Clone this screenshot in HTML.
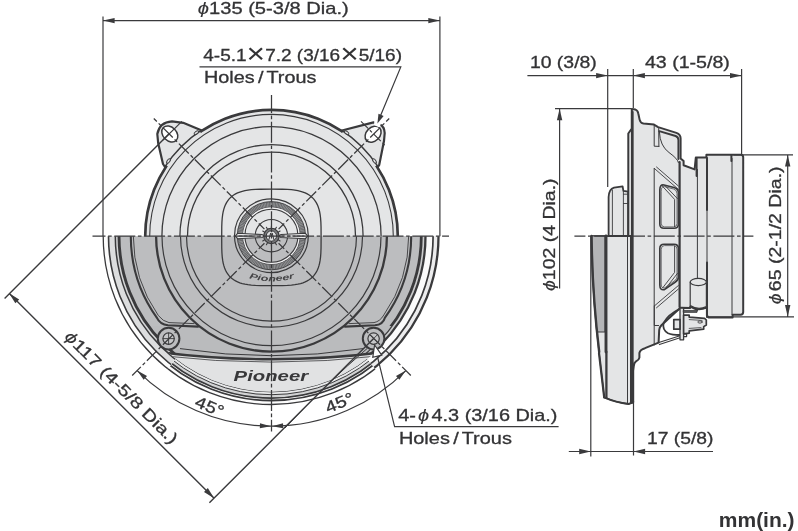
<!DOCTYPE html>
<html><head><meta charset="utf-8"><title>Speaker dimensions</title>
<style>html,body{margin:0;padding:0;background:#fff}svg{display:block;will-change:transform}text{font-family:"Liberation Sans",sans-serif;fill:#333335;font-size:16.2px;stroke:#333335;stroke-width:0.3px}</style>
</head><body>
<svg width="798" height="531" viewBox="0 0 798 531">
<defs>
<clipPath id="up"><rect x="0" y="0" width="520" height="236.2"/></clipPath>
<clipPath id="lo"><rect x="0" y="236.2" width="520" height="300"/></clipPath>
<clipPath id="pan"><circle cx="271.5" cy="236.2" r="155.6"/></clipPath>
<clipPath id="mesh"><circle cx="271.5" cy="236.2" r="150"/></clipPath>
</defs>
<rect width="798" height="531" fill="#fff"/>
<clipPath id="loR"><path d="M271.5,236.2L671.5,236.2L517.76,551.40Z"/></clipPath>
<clipPath id="loL"><path d="M271.5,236.2L-128.5,236.2L25.24,551.40Z"/></clipPath>
<clipPath id="loB"><path d="M271.5,236.2L517.76,551.40L25.24,551.40Z"/></clipPath>
<g clip-path="url(#loB)" fill="none" stroke="#3a3a3c">
<circle cx="271.5" cy="236.2" r="168.3" fill="#fcfcfc" stroke-width="1.3"/>
<circle cx="271.5" cy="236.2" r="164.3" stroke-width="1.8"/>
<circle cx="271.5" cy="236.2" r="161.9" fill="#d2d3d4" stroke-width="1.8"/>
<circle cx="271.5" cy="236.2" r="158.5" fill="#e8e9ea" stroke-width="1"/>
<circle cx="271.5" cy="236.2" r="155.7" fill="#bcbdbf" stroke-width="1"/>
</g>
<g clip-path="url(#loL)" fill="none" stroke="#3a3a3c">
<circle cx="271.5" cy="236.2" r="168.3" fill="#fcfcfc" stroke-width="1.3"/>
<circle cx="271.5" cy="236.2" r="163" fill="#dcddde" stroke-width="1.6"/>
<circle cx="271.5" cy="236.2" r="156.2" fill="#d3d4d5" stroke-width="1.5"/>
<circle cx="271.5" cy="236.2" r="152.5" fill="#bcbdbf" stroke-width="2.9"/>
</g>
<g clip-path="url(#loR)" fill="none" stroke="#3a3a3c">
<circle cx="271.5" cy="236.2" r="167" fill="#ececed" stroke-width="2.3"/>
<circle cx="271.5" cy="236.2" r="161.6" fill="#fbfbfb" stroke-width="1.7"/>
<circle cx="271.5" cy="236.2" r="154" fill="#cbcccd" stroke-width="2.3"/>
<circle cx="271.5" cy="236.2" r="149.8" fill="#bcbdbf" stroke-width="2.8"/>
</g>
<g clip-path="url(#lo)"><g clip-path="url(#pan)" fill="none" stroke="#3a3a3c">
<path d="M120,326 L423,326 L423,420 L120,420Z" fill="#babbbd" stroke="none" clip-path="url(#mesh)"/>
<path d="M150,351.5 Q271.5,366.5 393,351.5 L420,420 L120,420Z" fill="#e1e2e3" stroke="none"/>
<path d="M160,352.3 Q271.5,366.3 383,352.3" stroke-width="2.4"/>
<path d="M160,355.6 Q271.5,368.6 383,355.6" stroke-width="0.8"/>
<path d="M180,348.6 Q271.5,362.8 363,348.6" stroke-width="1"/>
</g></g>
<g clip-path="url(#lo)" fill="none" stroke="#3a3a3c" stroke-linecap="round">
<path d="M411.20,236.20A139.7,139.7 0 0 1 384.81,317.92 Q383,324.5 375,325.3 L345,326.6" stroke-width="2.1" fill="none"/>
<path d="M130.80,236.20A140.7,140.7 0 0 0 156.95,317.90 Q160,324.5 168,325.3 L198,326.6" stroke-width="2.1" fill="none"/>
<path d="M408.70,236.20A137.2,137.2 0 0 1 383.89,314.89 Q380,321.5 374,322.6 L349,323.6" stroke-width="0.9" fill="none"/>
<path d="M133.30,236.20A138.2,138.2 0 0 0 158.29,315.47 Q163,321.5 169,322.6 L194,323.6" stroke-width="0.9" fill="none"/>
<circle cx="271.5" cy="236.2" r="115.4" stroke-width="2.3" fill="#bcbdbf"/>
<circle cx="271.5" cy="236.2" r="109.5" stroke-width="1.2"/>
<circle cx="271.5" cy="236.2" r="91" stroke-width="1.2"/>
<circle cx="271.5" cy="236.2" r="85" stroke-width="1.2"/>
<circle cx="168.6" cy="338.6" r="10.8" fill="#bcbdbf" stroke-width="2"/>
<circle cx="168.6" cy="338.6" r="5.7" fill="#c6c7c9" stroke-width="1.2"/>
<path d="M163.2,338.6L174.0,338.6M168.6,333.20000000000005L168.6,344.0" stroke-width="0.9"/>
<circle cx="373.6" cy="338.6" r="10.8" fill="#bcbdbf" stroke-width="2"/>
<circle cx="373.6" cy="338.6" r="5.7" fill="#c6c7c9" stroke-width="1.2"/>
<path d="M369.8,334.8L377.40000000000003,342.40000000000003M369.8,342.40000000000003L377.40000000000003,334.8" stroke-width="0.9"/>
</g>
<g clip-path="url(#up)" fill="none" stroke="#3a3a3c" stroke-linecap="round" stroke-linejoin="round">
<path d="M203,131 L183.2,122.8 L172,121.3 Q159.5,122 157.3,134 L158.2,143.2 L163,164 L167,170 L210,190Z" fill="#e4e5e6" stroke-width="2.2"/>
<path d="M340,131 L373.5,122.4 L378,123.5 Q384.6,126 384.7,133 L384,141 L379.2,165 L376,170 L330,190Z" fill="#e4e5e6" stroke-width="2.2"/>
<circle cx="271.5" cy="236.2" r="126.3" fill="#e4e5e6" stroke-width="2.7"/>
<path d="M166.79,165.57A126.3,126.3 0 0 1 200.14,131.99" stroke="#e4e5e6" stroke-width="3.8" stroke-linecap="butt"/>
<path d="M164.82,166.92A127.2,127.2 0 0 1 201.48,130.01" stroke-width="1.5" stroke-linecap="butt"/>
<path d="M342.86,131.99A126.3,126.3 0 0 1 376.21,165.57" stroke="#e4e5e6" stroke-width="3.8" stroke-linecap="butt"/>
<path d="M341.52,130.01A127.2,127.2 0 0 1 378.18,166.92" stroke-width="1.5" stroke-linecap="butt"/>
<circle cx="271.5" cy="236.2" r="121.8" stroke-width="1.1"/>
<circle cx="271.5" cy="236.2" r="109.6" stroke-width="1.3"/>
<circle cx="271.5" cy="236.2" r="91.6" stroke-width="1.3"/>
<circle cx="271.5" cy="236.2" r="84" stroke-width="1.3"/>
<ellipse cx="196.4" cy="132.7" rx="2.6" ry="1.3" transform="rotate(-35 196.4 132.7)" stroke-width="1" fill="#e4e5e6"/>
<ellipse cx="168.5" cy="161" rx="2.6" ry="1.3" transform="rotate(-55 168.5 161)" stroke-width="1" fill="#e4e5e6"/>
<ellipse cx="346.6" cy="132.7" rx="2.6" ry="1.3" transform="rotate(35 346.6 132.7)" stroke-width="1" fill="#e4e5e6"/>
<ellipse cx="374.5" cy="161" rx="2.6" ry="1.3" transform="rotate(55 374.5 161)" stroke-width="1" fill="#e4e5e6"/>
<ellipse cx="169.8" cy="134" rx="9.1" ry="6.8" transform="rotate(45 169.8 134)" fill="#fff" stroke-width="1.5"/>
<ellipse cx="373.1" cy="134.2" rx="9.1" ry="6.8" transform="rotate(-45 373.1 134.2)" fill="#fff" stroke-width="1.5"/>
</g>
<path d="M374.5,119 L381.5,122 L379.5,127.5 L374,125Z" fill="#fff"/>
<g fill="none" stroke="#3a3a3c">
<path d="M321.10,237.40L321.04,247.99L320.86,252.95L320.57,256.84L320.15,260.15L319.62,263.06L318.96,265.67L318.18,268.03L317.28,270.20L316.26,272.17L315.10,273.98L313.82,275.64L312.40,277.16L310.83,278.54L309.12,279.78L307.25,280.90L305.22,281.90L302.99,282.77L300.55,283.53L297.86,284.16L294.86,284.68L291.45,285.08L287.44,285.37L282.32,285.54L271.40,285.60L260.48,285.54L255.36,285.37L251.35,285.08L247.94,284.68L244.94,284.16L242.25,283.53L239.81,282.77L237.58,281.90L235.55,280.90L233.68,279.78L231.97,278.54L230.40,277.16L228.98,275.64L227.70,273.98L226.54,272.17L225.52,270.20L224.62,268.03L223.84,265.67L223.18,263.06L222.65,260.15L222.23,256.84L221.94,252.95L221.76,247.99L221.70,237.40L221.76,226.81L221.94,221.85L222.23,217.96L222.65,214.65L223.18,211.74L223.84,209.13L224.62,206.77L225.52,204.60L226.54,202.63L227.70,200.82L228.98,199.16L230.40,197.64L231.97,196.26L233.68,195.02L235.55,193.90L237.58,192.90L239.81,192.03L242.25,191.27L244.94,190.64L247.94,190.12L251.35,189.72L255.36,189.43L260.48,189.26L271.40,189.20L282.32,189.26L287.44,189.43L291.45,189.72L294.86,190.12L297.86,190.64L300.55,191.27L302.99,192.03L305.22,192.90L307.25,193.90L309.12,195.02L310.83,196.26L312.40,197.64L313.82,199.16L315.10,200.82L316.26,202.63L317.28,204.60L318.18,206.77L318.96,209.13L319.62,211.74L320.15,214.65L320.57,217.96L320.86,221.85L321.04,226.81Z" stroke-width="1.3"/>
<circle cx="271.4" cy="235.7" r="36.9" stroke-width="1.2"/>
<circle cx="271.4" cy="235.7" r="31.4" stroke="#97989a" stroke-width="5.4"/>
<circle cx="271.4" cy="235.7" r="31.4" stroke="#5c5d5f" stroke-width="4.6" stroke-dasharray="0.7 0.8"/>
<circle cx="271.4" cy="235.7" r="34.1" stroke-width="0.9"/>
<circle cx="271.4" cy="235.7" r="28.7" stroke-width="0.8"/>
<circle cx="271.4" cy="235.7" r="27.7" stroke="#f2f2f3" stroke-width="1.1"/>
<circle cx="271.4" cy="235.7" r="26.5" stroke-width="1.1"/>
<circle cx="271.4" cy="235.7" r="16.2" stroke-width="1.1"/>
</g>
<g fill="none" stroke="#3a3a3c" stroke-linecap="round">
<path d="M235.4,236 L237.6,233.3 L262,234.5 L264.5,236 L262,237.5 L237.6,238.7Z" fill="#ececed" stroke-width="1.1"/>
<path d="M307.6,236 L305.4,233.3 L281,234.5 L278.5,236 L281,237.5 L305.4,238.7Z" fill="#ececed" stroke-width="1.1"/>
<path d="M239,236 L261,236 M282,236 L304,236" stroke-width="1" stroke-dasharray="3.2 1.8"/>
<circle cx="271.4" cy="236.0" r="7.7" fill="#77787a" stroke-width="1.1"/>
<circle cx="271.4" cy="236.0" r="5.2" fill="#dedfe0" stroke-width="1"/>
<path d="M264.73,232.15L262.74,231.00M267.55,229.33L266.40,227.34M271.40,228.30L271.40,226.00M275.25,229.33L276.40,227.34M278.07,232.15L280.06,231.00M278.07,239.85L280.06,241.00M275.25,242.67L276.40,244.66M271.40,243.70L271.40,246.00M267.55,242.67L266.40,244.66M264.73,239.85L262.74,241.00" stroke-width="1.1"/>
<path d="M268.79999999999995,240.0L270.59999999999997,233.1L271.4,236.29999999999998L272.2,233.1L274.0,240.0" stroke-width="1"/>
</g>
<text transform="translate(249.01,278.17) rotate(15.26) scale(1.52,1)" style="font-size:8.2px;font-style:italic;font-weight:bold;fill:#454547;stroke:none">P</text>
<text transform="translate(257.12,279.97) rotate(9.71) scale(1.52,1)" style="font-size:8.2px;font-style:italic;font-weight:bold;fill:#454547;stroke:none">i</text>
<text transform="translate(260.55,280.49) rotate(7.40) scale(1.52,1)" style="font-size:8.2px;font-style:italic;font-weight:bold;fill:#454547;stroke:none">o</text>
<text transform="translate(268.14,281.13) rotate(2.31) scale(1.52,1)" style="font-size:8.2px;font-style:italic;font-weight:bold;fill:#454547;stroke:none">n</text>
<text transform="translate(275.75,281.10) rotate(-2.77) scale(1.52,1)" style="font-size:8.2px;font-style:italic;font-weight:bold;fill:#454547;stroke:none">e</text>
<text transform="translate(282.65,280.49) rotate(-7.40) scale(1.52,1)" style="font-size:8.2px;font-style:italic;font-weight:bold;fill:#454547;stroke:none">e</text>
<text transform="translate(289.48,279.32) rotate(-12.03) scale(1.52,1)" style="font-size:8.2px;font-style:italic;font-weight:bold;fill:#454547;stroke:none">r</text>
<text x="233.6" y="381.2" style="font-size:15.2px;font-weight:bold;font-style:italic;fill:#38383a;stroke:none" textLength="74.5" lengthAdjust="spacingAndGlyphs">Pioneer</text>
<g fill="none" stroke="#3a3a3c" stroke-width="1.25">
<path d="M92.5,236.2L449,236.2" stroke-dasharray="21 2.6 3.6 2.6" stroke-dashoffset="8"/>
<path d="M271.5,95L271.5,431.5" stroke-dasharray="21 2.6 3.6 2.6" stroke-dashoffset="3"/>
<path d="M264.43,229.13L153.77,118.47" stroke-dasharray="14 2.6 3.4 2.6" stroke-dashoffset="6"/>
<path d="M278.57,229.13L389.23,118.47" stroke-dasharray="14 2.6 3.4 2.6" stroke-dashoffset="6"/>
<path d="M264.43,243.27L132.20,375.50" stroke-dasharray="14 2.6 3.4 2.6" stroke-dashoffset="6"/>
<path d="M278.57,243.27L410.80,375.50" stroke-dasharray="14 2.6 3.4 2.6" stroke-dashoffset="6"/>
<path d="M163,140 L181.9,121.3" stroke-width="1.1"/>
<path d="M361,121.4 L386,146.4" stroke-width="1.1" stroke-dasharray="10 2.5 3 2.5" stroke-dashoffset="0"/>
</g>
<g fill="none" stroke="#3a3a3c" stroke-width="1.2">
<path d="M103,16.5L103,236.2 M439.9,16.5L439.9,236.2 M103,20.6L439.9,20.6"/>
<path d="M169.4,133.6L4.6,298.4 M373.6,338.6L209.4,502.8 M9.1,293.2L214.1,498.2" stroke-width="1.4"/>
<path d="M367,348.6 Q328,382 285,428" stroke-width="1"/>
<path d="M405.85,370.55A190,190 0 0 1 137.15,370.55"/>
<path d="M199.5,66.9L400.8,66.9L380.6,115.5"/>
<path d="M558.6,426.6L394.6,426.6L377.4,356.4"/>
</g>
<path d="M103.00,20.60L114.60,17.90L114.60,23.30Z" fill="#3a3a3c"/>
<path d="M439.90,20.60L428.30,23.30L428.30,17.90Z" fill="#3a3a3c"/>
<path d="M9.10,293.20L19.21,299.49L15.39,303.31Z" fill="#3a3a3c"/>
<path d="M214.10,498.20L203.99,491.91L207.81,488.09Z" fill="#3a3a3c"/>
<path d="M377.40,123.60L378.48,113.76L383.65,115.92Z" fill="#3a3a3c"/>
<path d="M137.15,370.55L147.00,376.05L143.65,379.77Z" fill="#3a3a3c"/>
<path d="M405.85,370.55L399.35,379.77L396.00,376.05Z" fill="#3a3a3c"/>
<path d="M270.90,426.20L259.82,428.31L259.99,423.32Z" fill="#3a3a3c"/>
<path d="M272.10,426.20L283.01,423.32L283.18,428.31Z" fill="#3a3a3c"/>
<path d="M374.60,345.00L381.74,355.12L372.79,357.25Z" fill="#fff" stroke="#3a3a3c" stroke-width="1.2"/>
<text x="197.8" y="13.5" textLength="151" lengthAdjust="spacingAndGlyphs"><tspan style="font-style:italic;stroke-width:0.1px">&#981;</tspan>135 (5-3/8 Dia.)</text>
<text x="203.3" y="60.7" textLength="198.7" lengthAdjust="spacingAndGlyphs">4-5.1<tspan style="font-size:27px;stroke-width:0" dy="2.5">&#215;</tspan><tspan dy="-2.5">7.2 (3/16</tspan><tspan style="font-size:27px;stroke-width:0" dy="2.5">&#215;</tspan><tspan dy="-2.5">5/16)</tspan></text>
<text x="204" y="83.3" textLength="112.4" lengthAdjust="spacingAndGlyphs" style="word-spacing:-1.8px">Holes / Trous</text>
<text x="398.3" y="420.6" textLength="159.2" lengthAdjust="spacingAndGlyphs">4-<tspan style="font-style:italic;stroke-width:0.1px" dx="1.6">&#981;</tspan><tspan dx="2">4.3 (3/16 Dia.)</tspan></text>
<text x="398.9" y="444.2" textLength="113" lengthAdjust="spacingAndGlyphs" style="word-spacing:-1.8px">Holes / Trous</text>
<text transform="translate(63.8,337.6) rotate(45)" textLength="152" lengthAdjust="spacingAndGlyphs"><tspan style="font-style:italic;stroke-width:0.1px">&#981;</tspan>117 (4-5/8 Dia.)</text>
<text transform="translate(207.5,411.7) rotate(22.5)" text-anchor="middle" textLength="29.5" lengthAdjust="spacingAndGlyphs">45&#176;</text>
<text transform="translate(341.6,407.8) rotate(-22.5)" text-anchor="middle" textLength="29.5" lengthAdjust="spacingAndGlyphs">45&#176;</text>
<text x="718.8" y="527.2" style="font-size:19.6px;font-weight:bold;stroke:none" textLength="75.8" lengthAdjust="spacingAndGlyphs">mm(in.)</text>
<g fill="none" stroke="#3a3a3c" stroke-linejoin="round" stroke-linecap="round">
<path d="M591.4,236.0 C591.8,280 595.4,322 599,352 L604.2,397.4 Q616,402.6 628.6,404 L633,402.4 L633,236.0Z" fill="#e4e5e6" stroke-width="1.3"/>
<path d="M591.4,236.0 L605,236.0 L605,332 L597,332 Q592.6,286 591.4,236.0Z" fill="#b4b5b7" stroke-width="1"/>
<path d="M591.6,236.0 C592,280 595.6,322 599.2,352" stroke-width="2.4"/>
<path d="M599,353 L601.6,375 L604.2,397.4" stroke-width="2.2"/>
<path d="M606,236.0 L606,352" stroke-width="2.9"/>
<path d="M606.4,352 L606.4,398" stroke-width="2.3"/>
<path d="M627.5,236.0 L627.5,403" stroke-width="1"/>
<path d="M604.2,397.4 Q616,402.6 628.6,404 L633,402.4" stroke-width="2"/>
<path d="M608.6,236.0 L608.6,197 Q609,189 614,187.6 L622.6,186.3 L623.4,190.8 L628.2,191.6 L628.2,236.0Z" fill="#e4e5e6" stroke-width="1.8"/>
<path d="M612.4,190 L612.4,236.0 M623.4,191 L623.4,236.0" stroke-width="0.9"/>
<path d="M623.4,194.2 L627.6,194.2 M623.4,203.5 L627.6,203.5" stroke-width="0.9"/>
<path d="M631.8,109 L635.5,109.6 Q637.8,110.4 638.3,113.5 L639.6,119.6 Q640.4,123 643.5,123.6 L654,124.6 L658.1,127.1 L676.4,132.9 Q680.6,134.4 680.6,138.2 L680.6,158.4 L683.6,161 L683.6,165.3 L694.6,169.4 L695.8,157.6 L706.4,157.4 L706.4,154.7 L741,154.7 Q743.2,154.9 743.2,157.2 L743.2,312 Q743.2,314.7 740.6,314.7 L732.6,314.7 L732.6,317.4 L708.4,317.4 L706.9,315.4 L706.9,307.4 Q698,311.4 690.2,306.6 L690,308 L680.4,307.8 L661.4,325.2 Q659.4,327.2 659.2,330 L658.6,342.6 L645,348.2 Q640,349.6 639.4,353 L639.4,357.6 Q639,360 636,361.4 Q634,362.6 633.8,366 L633.2,371 L633.2,402.2 L631,402.2 L631,236.0 L628.3,236.0 L628.3,133.5 L631.8,128.5Z" fill="#e4e5e6" stroke-width="2"/>
<path d="M632.3,112 L632.3,402" stroke-width="2.7"/>
<path d="M654.2,125 L654.2,146.2 L658.9,146.4 M654.2,168.4 L654.2,345" stroke-width="1"/>
<path d="M679.6,162 L679.6,307" stroke-width="2.2"/>
<path d="M697.4,169.5 L697.4,311" stroke-width="1"/>
<path d="M696.6,158 L696.6,176" stroke-width="2"/>
<path d="M707,158 L707,317" stroke-width="1"/>
<path d="M707,158 L707,210 M707,262.5 L707,317" stroke-width="2"/>
<path d="M732,158.5 L732,314.5" stroke-width="1"/>
<path d="M731.4,155.5 L731.4,161" stroke-width="2"/>
<path d="M659.2,131.2 L675.6,136 Q678.4,137 678.4,140 L678.4,159" stroke-width="1.9"/>
<path d="M658.7,128.5 L658.9,146.4" stroke-width="1"/>
<path d="M659.4,132 Q660,146 669,152.5 T678.4,162.5" stroke-width="1"/>
<path d="M654.3,168.4 L678.4,189.4 M656.5,167 L678.4,186" stroke-width="0.9"/>
<path d="M659.8,190 Q659.8,184.2 664,185 L674,187.6 Q678.4,189 678.4,193 L678.4,224 Q678.4,228.3 674,228.3 L664,228.3 Q659.8,228.3 659.8,224Z" stroke-width="1.6" fill="#e4e5e6"/>
<path d="M661.2,191 Q661.2,186 664.4,186.6 L673.6,189 Q677,190 677,193.6 L677,223.6 Q677,226.9 673.6,226.9 L664.4,226.9 Q661.2,226.9 661.2,223.6Z" stroke-width="0.7"/>
<path d="M662.6,186.4 L674.6,199.4 L674.6,226.6 M665.4,186 L677.4,198.6" stroke-width="0.9"/>
<path d="M659.8,248.5 Q659.8,244.2 664,244.2 L674,244.2 Q678.4,244.2 678.4,248.5 L678.4,277 Q678.4,280 675.4,282 L664.4,289.6 Q659.8,290.6 659.8,285Z" stroke-width="1.6" fill="#e4e5e6"/>
<path d="M661.2,249 Q661.2,245.6 664.4,245.6 L673.6,245.6 Q677,245.6 677,249 L677,276.4 Q677,279 674.6,280.8 L664.8,287.8 Q661.2,288.8 661.2,284.4Z" stroke-width="0.7"/>
<path d="M674.6,246 L674.6,272.4 L662.6,288 M677.4,273.4 L665.6,288.6" stroke-width="0.9"/>
<path d="M678.4,285.5 L654.3,306 M678.4,289 L656.5,307.8" stroke-width="0.9"/>
<path d="M654.3,306 L654.3,325.5 L658.6,325.5" stroke-width="1"/>
<path d="M690.2,282 L690.2,305.5 Q698,310.5 706.4,306.5 L706.4,282" fill="#e4e5e6" stroke-width="1.2"/>
<ellipse cx="698.3" cy="282" rx="8.1" ry="3.6" fill="#e4e5e6" stroke-width="1.2"/>
<path d="M679.6,309 Q668,314.5 663.6,323 Q662,329.6 668,333.2 Q672,335 680,335" stroke-width="1.8"/>
<path d="M658.8,342.6 L680,335.8 M659.4,344.6 L680,337.8" stroke-width="1.1"/>
<path d="M680,308.2 L683.6,308.2 L683.6,339.8 L680,339.8Z" fill="#e4e5e6" stroke-width="1.3"/>
<path d="M683.6,310.4 L697,310.4 L697,312.4 L683.6,312.4Z" fill="#5a5b5d" stroke-width="0.8"/>
<path d="M683.6,315.2 L689.2,315.2 L689.2,317.2 L704.6,318.3 L706.3,320 L706.3,325 L703.7,326.6 L703.7,329.2 L689.2,330.8 L689.2,333.2 L683.6,333.8Z" fill="#e4e5e6" stroke-width="1.7"/>
<path d="M689.2,319.6 L702,320.4 M689.2,328.4 L701,327.6" stroke-width="0.8"/>
<ellipse cx="700" cy="322" rx="2.2" ry="1.1" stroke-width="0.9" fill="#f4f4f4"/>
<path d="M673.8,319.6 L680,319.6 L680,329.2 L673.8,329.2Z" fill="#e4e5e6" stroke-width="1.7"/>
<path d="M683.6,334 L686.6,334 L686.6,336.6 L683.6,336.6" stroke-width="1.2"/>
</g>
<g fill="none" stroke="#3a3a3c" stroke-width="1.2">
<path d="M527.4,75.6L741.6,75.6 M607.7,69L607.7,187 M633.3,69L633.3,108 M741.6,69L741.6,154.6"/>
<path d="M559.6,108.7L559.6,288.6 M555,108.7L631.4,108.7"/>
<path d="M787.7,155L787.7,316.6 M733.6,154.8L793,154.8 M707,316.8L794,316.8"/>
<path d="M568.8,451.5L713,451.5 M590.8,236L590.8,456.5 M633.5,401L633.5,455.4"/>
<path d="M574.4,236.1L753.4,236.1" stroke-dasharray="21 2.6 3.6 2.6" stroke-dashoffset="10"/>
</g>
<path d="M607.70,75.60L596.10,78.30L596.10,72.90Z" fill="#3a3a3c"/>
<path d="M633.30,75.60L644.90,72.90L644.90,78.30Z" fill="#3a3a3c"/>
<path d="M741.60,75.60L730.00,78.30L730.00,72.90Z" fill="#3a3a3c"/>
<path d="M559.60,108.70L562.30,120.30L556.90,120.30Z" fill="#3a3a3c"/>
<path d="M787.70,154.90L790.40,166.50L785.00,166.50Z" fill="#3a3a3c"/>
<path d="M787.70,316.70L785.00,305.10L790.40,305.10Z" fill="#3a3a3c"/>
<path d="M590.80,451.50L579.20,454.20L579.20,448.80Z" fill="#3a3a3c"/>
<path d="M633.50,451.50L645.10,448.80L645.10,454.20Z" fill="#3a3a3c"/>
<text x="529.9" y="68.2" textLength="66.9" lengthAdjust="spacingAndGlyphs">10 (3/8)</text>
<text x="644.9" y="68.2" textLength="85" lengthAdjust="spacingAndGlyphs">43 (1-5/8)</text>
<text x="647" y="444.2" textLength="66.5" lengthAdjust="spacingAndGlyphs">17 (5/8)</text>
<text transform="translate(555.3,291) rotate(-90)" textLength="112.6" lengthAdjust="spacingAndGlyphs"><tspan style="font-style:italic;stroke-width:0.1px">&#981;</tspan>102 (4 Dia.)</text>
<text transform="translate(781.3,304.2) rotate(-90)" textLength="137.8" lengthAdjust="spacingAndGlyphs"><tspan style="font-style:italic;stroke-width:0.1px">&#981;</tspan><tspan dx="1.8">65 (2-1/2 Dia.)</tspan></text>
</svg></body></html>
